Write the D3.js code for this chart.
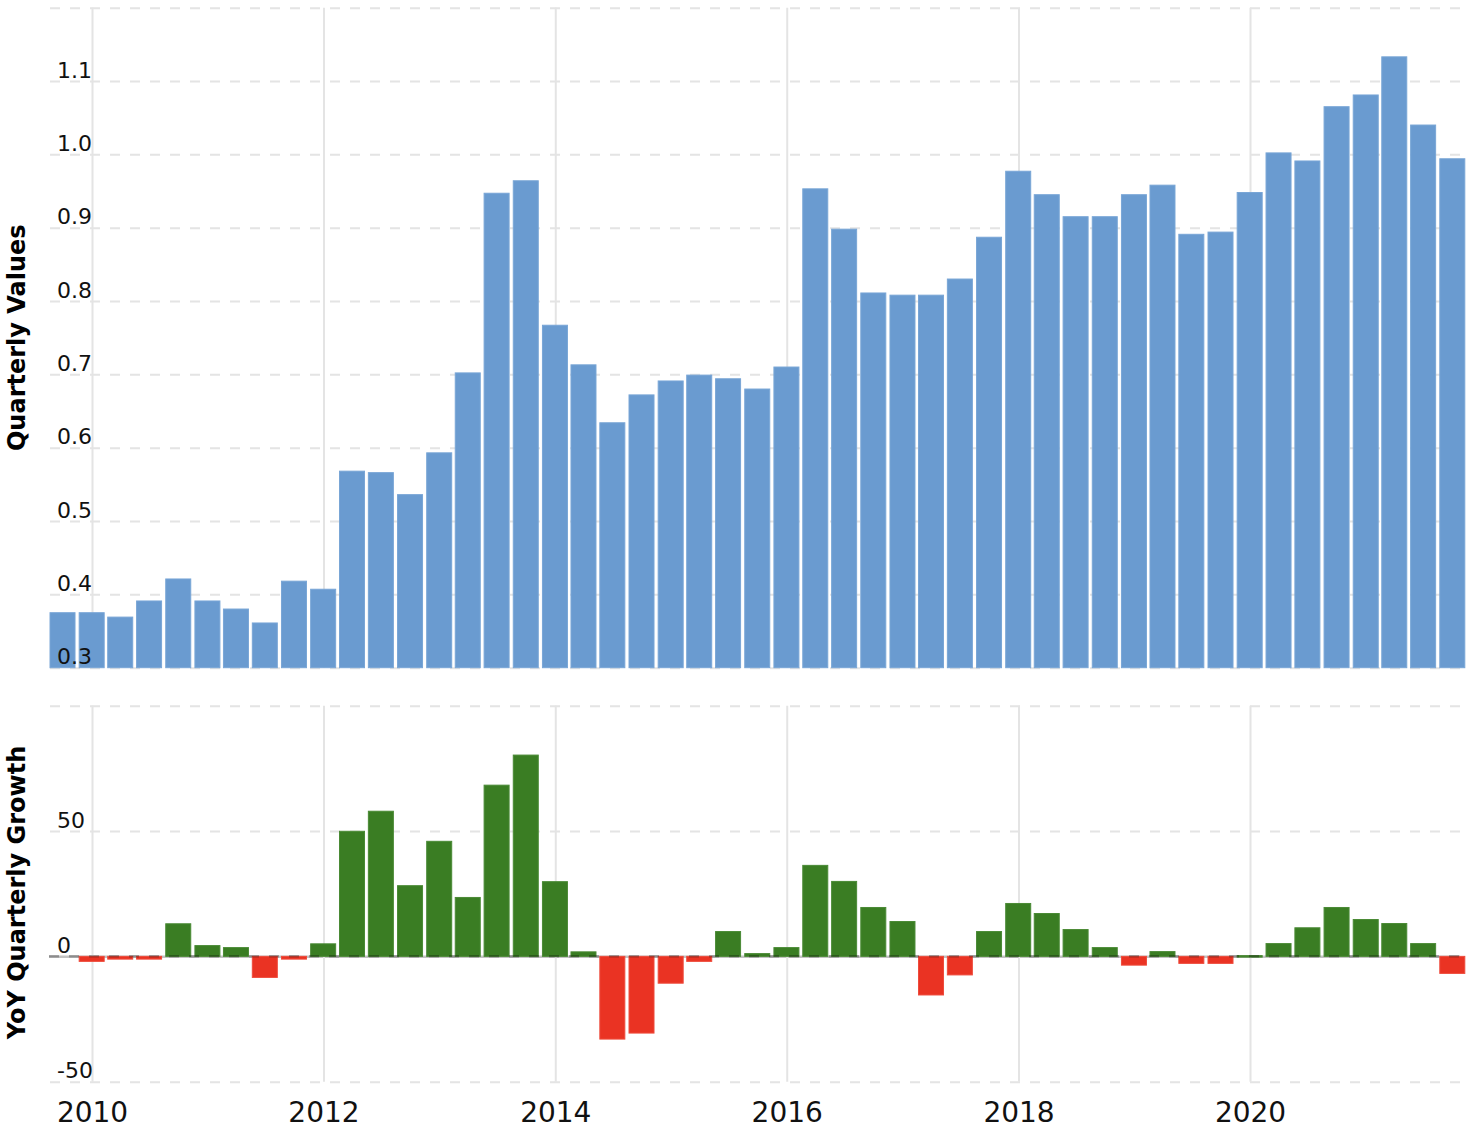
<!DOCTYPE html>
<html>
<head>
<meta charset="utf-8">
<script src="https://cdn.jsdelivr.net/npm/d3@7"></script>
<style>
  html, body { margin: 0; padding: 0; background: #fff; }
  svg { display: block; font-family: "DejaVu Sans", Verdana, sans-serif; }
</style>
</head>
<body>
<svg id="chart" width="1475" height="1128"></svg>
<script>
// ---- data ----
const quarterDates = [
  "2009-09-30","2009-12-31",
  "2010-03-31","2010-06-30","2010-09-30","2010-12-31",
  "2011-03-31","2011-06-30","2011-09-30","2011-12-31",
  "2012-03-31","2012-06-30","2012-09-30","2012-12-31",
  "2013-03-31","2013-06-30","2013-09-30","2013-12-31",
  "2014-03-31","2014-06-30","2014-09-30","2014-12-31",
  "2015-03-31","2015-06-30","2015-09-30","2015-12-31",
  "2016-03-31","2016-06-30","2016-09-30","2016-12-31",
  "2017-03-31","2017-06-30","2017-09-30","2017-12-31",
  "2018-03-31","2018-06-30","2018-09-30","2018-12-31",
  "2019-03-31","2019-06-30","2019-09-30","2019-12-31",
  "2020-03-31","2020-06-30","2020-09-30","2020-12-31",
  "2021-03-31","2021-06-30","2021-09-30"
];
const quarterlyValues = [
  0.375,0.375,0.369,0.391,0.421,0.391,0.380,0.361,0.418,0.407,
  0.568,0.566,0.536,0.593,0.702,0.947,0.964,0.767,0.713,0.634,
  0.672,0.691,0.699,0.694,0.680,0.710,0.953,0.898,0.811,0.808,
  0.808,0.830,0.887,0.977,0.945,0.915,0.915,0.945,0.958,0.891,
  0.894,0.948,1.002,0.991,1.065,1.081,1.133,1.040,0.994
];
const yoyGrowth = [
  null,-2.0,-1.1,-1.1,13.0,4.3,3.5,-8.4,-1.1,5.0,
  49.9,57.9,28.2,45.9,23.5,68.3,80.3,29.8,1.8,-33.0,
  -30.6,-10.7,-2.0,9.9,1.1,3.5,36.3,29.9,19.5,13.9,
  -15.4,-7.4,9.9,21.1,17.1,10.7,3.5,-3.5,1.9,-2.8,
  -2.8,0.3,5.1,11.4,19.5,14.7,13.1,5.1,-6.8
];
const topTicks = [0.3,0.4,0.5,0.6,0.7,0.8,0.9,1.0,1.1,1.2];
const topTickLabels = ["0.3","0.4","0.5","0.6","0.7","0.8","0.9","1.0","1.1",""];
const bottomTicks = [-50,0,50,100];
const bottomTickLabels = ["-50","0","50",""];
const yearTicks = ["2010","2012","2014","2016","2018","2020"];
const topTitle = "Quarterly Values";
const bottomTitle = "YoY Quarterly Growth";

// ---- layout ----
const parse = d3.timeParse("%Y-%m-%d");
const svg = d3.select("#chart");
const gridLeft = 49, gridRight = 1460;
const barW = 25;

const x = d3.scaleTime()
  .domain([new Date(2010,0,1), new Date(2020,0,1)])
  .range([92, 1250]);

const yTop = d3.scaleLinear().domain([0.3, 1.2]).range([667.7, 7.7]);
const yBot = d3.scaleLinear().domain([-50, 100]).range([1081.7, 705.7]);

const topData = quarterDates.map((d,i) => ({date: parse(d), v: quarterlyValues[i]}));
const botData = quarterDates.map((d,i) => ({date: parse(d), v: yoyGrowth[i]})).filter(d => d.v !== null);

const gridColor = "#e4e4e4";
const layerGrid = svg.append("g");
const layerBars = svg.append("g");
const layerText = svg.append("g");

function hGrid(yScale, ticks) {
  const ax = d3.axisLeft(yScale).tickValues(ticks).tickSize(gridRight - gridLeft).tickFormat("");
  const g = layerGrid.append("g").attr("transform", `translate(${gridRight},0)`).call(ax);
  g.select(".domain").remove();
  g.selectAll(".tick line")
    .attr("stroke", gridColor).attr("stroke-width", 2).attr("stroke-dasharray", "10,10");
  return g;
}
function hLabels(yScale, ticks, labels) {
  const ax = d3.axisLeft(yScale).tickValues(ticks).tickSize(0).tickFormat((d,i) => labels[i]);
  const g = layerText.append("g").attr("transform", "translate(0,0)").call(ax);
  g.select(".domain").remove();
  g.selectAll(".tick line").remove();
  g.selectAll(".tick text")
    .attr("x", 57).attr("dy", -4).attr("text-anchor", "start")
    .attr("font-size", 22).attr("fill", "#111")
    .attr("font-family", "DejaVu Sans, Verdana, sans-serif");
}
function vGrid(y0, y1) {
  const ax = d3.axisBottom(x).tickValues(yearTicks.map(t => new Date(+t,0,1))).tickSize(y1 - y0).tickFormat("");
  const g = layerGrid.append("g").attr("transform", `translate(0,${y0})`).call(ax);
  g.select(".domain").remove();
  g.selectAll(".tick line").attr("stroke", gridColor).attr("stroke-width", 2);
}

// top panel
hGrid(yTop, topTicks);
vGrid(yTop(1.2), yTop(0.3));
layerBars.append("g").selectAll("rect").data(topData).join("rect")
  .attr("x", d => x(d.date) - barW/2)
  .attr("width", barW)
  .attr("y", d => yTop(d.v))
  .attr("height", d => yTop(0.3) - yTop(d.v))
  .attr("fill", "#6a9bd0")
  .attr("stroke", "#79a6d6")
  .attr("stroke-width", 1);
hLabels(yTop, topTicks, topTickLabels);

// bottom panel
const bg = hGrid(yBot, bottomTicks);
bg.selectAll(".tick").filter(d => d === 0).select("line")
  .attr("stroke", "#c2c2c2").attr("stroke-dasharray", null).attr("stroke-width", 2.5);
vGrid(yBot(100), yBot(-50));
layerBars.append("g").selectAll("rect").data(botData).join("rect")
  .attr("x", d => x(d.date) - barW/2)
  .attr("width", barW)
  .attr("y", d => d.v >= 0 ? yBot(d.v) : yBot(0))
  .attr("height", d => Math.max(1.5, Math.abs(yBot(d.v) - yBot(0))))
  .attr("fill", d => d.v >= 0 ? "#3a7d23" : "#ea3323")
  .attr("stroke", d => d.v >= 0 ? "#4a8a35" : "#ee4b3c")
  .attr("stroke-width", 1);
layerBars.append("line")
  .attr("x1", gridLeft).attr("x2", gridRight)
  .attr("y1", yBot(0)).attr("y2", yBot(0))
  .attr("stroke", "rgba(0,0,0,0.28)").attr("stroke-width", 2.5)
  .attr("stroke-dasharray", "10,10");
hLabels(yBot, bottomTicks, bottomTickLabels);

// x axis labels
const xa = d3.axisBottom(x).tickValues(yearTicks.map(t => new Date(+t,0,1))).tickSize(0).tickFormat(d3.timeFormat("%Y"));
const xg = layerText.append("g").attr("transform", "translate(0,1100)").call(xa);
xg.select(".domain").remove();
xg.selectAll(".tick text")
  .attr("y", 22).attr("dy", 0)
  .attr("font-size", 28).attr("fill", "#111")
  .attr("font-family", "DejaVu Sans, Verdana, sans-serif");

// axis titles
layerText.append("text")
  .attr("transform", `translate(25,${(yTop(1.2)+yTop(0.3))/2}) rotate(-90)`)
  .attr("text-anchor", "middle")
  .attr("font-size", 24).attr("font-weight", "bold").attr("fill", "#000")
  .text(topTitle);
layerText.append("text")
  .attr("transform", `translate(25,892.5) rotate(-90)`)
  .attr("text-anchor", "middle")
  .attr("font-size", 24).attr("font-weight", "bold").attr("fill", "#000")
  .text(bottomTitle);
</script>
</body>
</html>
